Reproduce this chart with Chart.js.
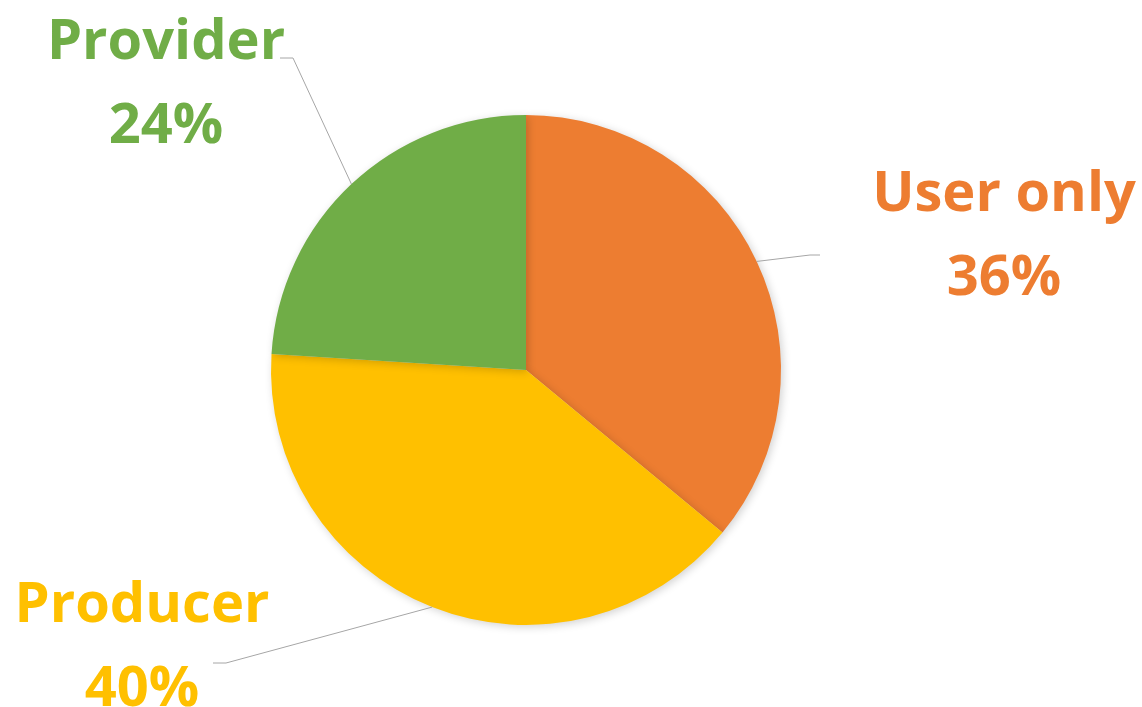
<!DOCTYPE html>
<html>
<head>
<meta charset="utf-8">
<script src="https://cdn.jsdelivr.net/npm/chart.js@4"></script>
<style>
  html, body { margin: 0; padding: 0; background: #ffffff; }
  #wrap { width: 1142px; height: 707px; position: relative; }
</style>
</head>
<body>
<div id="wrap"><canvas id="c" width="1142" height="707"></canvas></div>
<script>
const categories = ["User only", "Producer", "Provider"];
const values = [36, 40, 24];
const colors = ["#ED7D31", "#FFC000", "#70AD47"];

// label layout: text centre x, first baseline y, elbow point, end point
const labelLayout = [
  { tx: 1004, ty: 211, elbow: [810, 255], end: [820, 255] },
  { tx: 142, ty: 622, elbow: [226, 663], end: [213, 663] },
  { tx: 166, ty: 59, elbow: [293, 58], end: [280, 58] }
];

const labelPlugin = {
  id: 'outLabels',
  beforeDatasetsDraw(chart) {
    const ctx = chart.ctx;
    ctx.save();
    ctx.shadowColor = 'rgba(0,0,0,0.18)';
    ctx.shadowBlur = 8;
    ctx.shadowOffsetX = 2;
    ctx.shadowOffsetY = 2;
  },
  afterDatasetsDraw(chart) {
    const ctx = chart.ctx;
    ctx.restore();
    const meta = chart.getDatasetMeta(0);
    const total = values.reduce((a, b) => a + b, 0);
    meta.data.forEach((arc, i) => {
      const p = arc.getProps(['x', 'y', 'startAngle', 'endAngle', 'outerRadius'], true);
      const mid = (p.startAngle + p.endAngle) / 2;
      const sx = p.x + Math.cos(mid) * p.outerRadius;
      const sy = p.y + Math.sin(mid) * p.outerRadius;
      const L = labelLayout[i];
      ctx.save();
      ctx.strokeStyle = '#a6a6a6';
      ctx.lineWidth = 1;
      ctx.beginPath();
      ctx.moveTo(sx, sy);
      ctx.lineTo(L.elbow[0], L.elbow[1]);
      ctx.lineTo(L.end[0], L.end[1]);
      ctx.stroke();
      ctx.fillStyle = colors[i];
      ctx.font = 'bold 56px "Open Sans", Lato, sans-serif';
      ctx.textAlign = 'center';
      ctx.textBaseline = 'alphabetic';
      const pct = Math.round(values[i] / total * 100) + '%';
      ctx.fillText(categories[i], L.tx, L.ty);
      ctx.fillText(pct, L.tx, L.ty + 84);
      ctx.restore();
    });
  }
};

new Chart(document.getElementById('c'), {
  type: 'pie',
  data: {
    labels: categories,
    datasets: [{
      data: values,
      backgroundColor: colors,
      borderWidth: 0
    }]
  },
  options: {
    responsive: false,
    animation: false,
    layout: { padding: { top: 115, bottom: 82, left: 271, right: 361 } },
    plugins: {
      legend: { display: false },
      tooltip: { enabled: false }
    }
  },
  plugins: [labelPlugin]
});
</script>
</body>
</html>
